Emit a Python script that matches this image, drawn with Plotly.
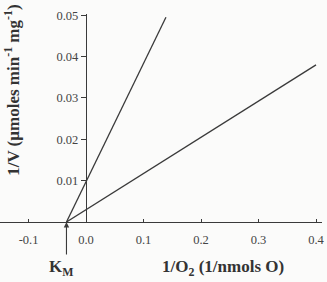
import plotly.graph_objects as go

# Data (Lineweaver-Burk lines)
steep_x = [-0.034, 0.139]
steep_y = [0.0, 0.0495]
shallow_x = [-0.034, 0.40]
shallow_y = [0.0, 0.038]

x_ticks = [-0.1, 0.0, 0.1, 0.2, 0.3, 0.4]
x_labels = ["-0.1", "0.0", "0.1", "0.2", "0.3", "0.4"]
y_ticks = [0.01, 0.02, 0.03, 0.04, 0.05]
y_labels = ["0.01", "0.02", "0.03", "0.04", "0.05"]
km_x = -0.034

xmin, xmax = -0.1496, 0.4104
ymin, ymax = 0.0, 0.0503

font = "Liberation Serif, Times New Roman, serif"
line_col = "#3a3a3a"

fig = go.Figure()
fig.add_trace(go.Scatter(x=steep_x, y=steep_y, mode="lines",
                         line=dict(color=line_col, width=1.3), showlegend=False))
fig.add_trace(go.Scatter(x=shallow_x, y=shallow_y, mode="lines",
                         line=dict(color=line_col, width=1.3), showlegend=False))

fig.update_layout(
    width=327, height=282,
    margin=dict(l=0, r=5, t=14, b=60),
    paper_bgcolor="#fbfbfa", plot_bgcolor="#fbfbfa",
    font=dict(family=font, size=12, color="#333"),
    xaxis=dict(range=[xmin, xmax], tickvals=x_ticks, ticktext=x_labels,
               showgrid=False, zeroline=False, showline=True, linecolor=line_col,
               linewidth=1.3, ticks="inside", ticklen=3, tickcolor=line_col,
               ticklabelstandoff=6, tickfont=dict(family=font, size=12.5, color="#444")),
    yaxis=dict(range=[ymin, ymax], tickvals=y_ticks, ticktext=y_labels,
               showgrid=False, zeroline=False, showline=True, linecolor=line_col,
               linewidth=1.3, ticks="outside", ticklen=5, tickcolor=line_col,
               anchor="free", position=(0 - xmin) / (xmax - xmin),
               tickfont=dict(family=font, size=12.5, color="#444")),
)

# arrow to Km
fig.add_annotation(x=km_x, y=0, xref="x", yref="y", text="", showarrow=True,
                   ax=0, ay=34, arrowhead=2, arrowsize=1, arrowwidth=1.1,
                   arrowcolor=line_col)
km_paper_x = (km_x - xmin) / (xmax - xmin)
fig.add_annotation(x=km_paper_x, y=-0.221, xref="paper", yref="paper",
                   text="<b>K<sub>M</sub></b>",
                   showarrow=False, font=dict(family=font, size=17, color="#333"),
                   xanchor="center", yanchor="middle", xshift=-5)
fig.add_annotation(x=(0.238 - xmin) / (xmax - xmin), y=-0.221, xref="paper", yref="paper",
                   text="<b>1/O<sub>2</sub> (1/nmols O)</b>",
                   showarrow=False, font=dict(family=font, size=17, color="#333"),
                   xanchor="center", yanchor="middle")
fig.add_annotation(x=0.037, y=0.635, xref="paper", yref="paper",
                   text="<b>1/V (µmoles min<sup>-1</sup> mg<sup>-1</sup>)</b>",
                   showarrow=False, textangle=-90,
                   font=dict(family=font, size=17, color="#333"),
                   xanchor="center", yanchor="middle")

fig.write_html("out.html")
